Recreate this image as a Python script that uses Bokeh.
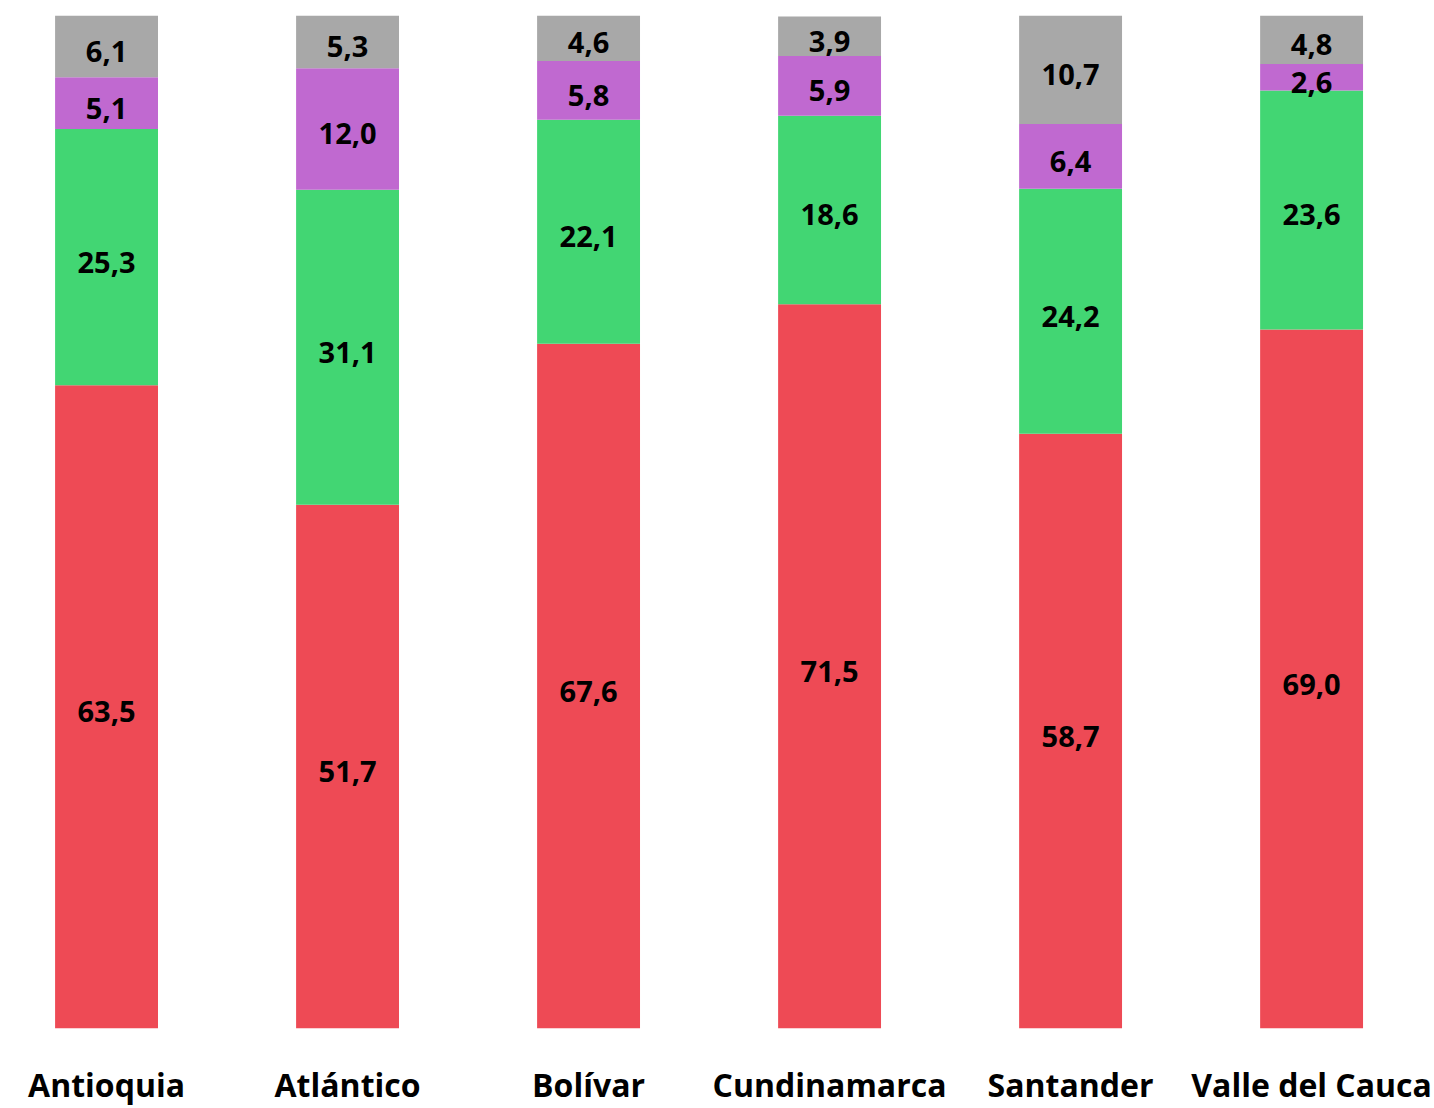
from bokeh.plotting import figure
from bokeh.models import ColumnDataSource, Range1d, FixedTicker
from bokeh.core.properties import value
from bokeh.embed import file_html
from bokeh.resources import INLINE

departments = ["Antioquia", "Atlántico", "Bolívar", "Cundinamarca", "Santander", "Valle del Cauca"]
serie_roja = [63.5, 51.7, 67.6, 71.5, 58.7, 69.0]
serie_verde = [25.3, 31.1, 22.1, 18.6, 24.2, 23.6]
serie_morada = [5.1, 12.0, 5.8, 5.9, 6.4, 2.6]
serie_gris = [6.1, 5.3, 4.6, 3.9, 10.7, 4.8]

series = [serie_roja, serie_verde, serie_morada, serie_gris]
names = ["roja", "verde", "morada", "gris"]
colors = ["#EE4A55", "#42D673", "#C069D0", "#A8A8A8"]

FONT = "Open Sans"

xs = list(range(len(departments)))
data = {"x": xs}
for n, s in zip(names, series):
    data[n] = s
source = ColumnDataSource(data)

p = figure(width=1434, height=1108, output_backend="svg", toolbar_location=None,
           x_range=Range1d(-0.44, 5.51), y_range=Range1d(0, 100),
           min_border_top=15, min_border_bottom=0, min_border_left=0, min_border_right=0)

p.vbar_stack(names, x="x", width=0.427, color=colors, line_color=None, source=source)

for i, s in enumerate(series):
    bottoms = [sum(series[k][j] for k in range(i)) for j in range(len(xs))]
    mids = [b + v / 2 for b, v in zip(bottoms, s)]
    labels = [f"{v:.1f}".replace(".", ",") for v in s]
    src = ColumnDataSource(dict(x=xs, y=mids, t=labels))
    p.text(x="x", y="y", text="t", source=src, text_align="center", text_baseline="middle",
           text_font=value(FONT), text_font_style="bold", text_font_size="29px",
           text_color="#000000", y_offset=5)

p.xaxis.ticker = FixedTicker(ticks=xs)
p.xaxis.major_label_overrides = {i: d for i, d in enumerate(departments)}
p.xaxis.major_label_text_font = FONT
p.xaxis.major_label_text_font_style = "bold"
p.xaxis.major_label_text_font_size = "32px"
p.xaxis.major_label_text_color = "#000000"
p.xaxis.axis_line_color = None
p.xaxis.major_tick_line_color = None
p.xaxis.minor_tick_line_color = None
p.xaxis.major_label_standoff = 28
p.yaxis.visible = False
p.xgrid.visible = False
p.ygrid.visible = False
p.outline_line_color = None

open("out.html", "w").write(file_html(p, INLINE))
